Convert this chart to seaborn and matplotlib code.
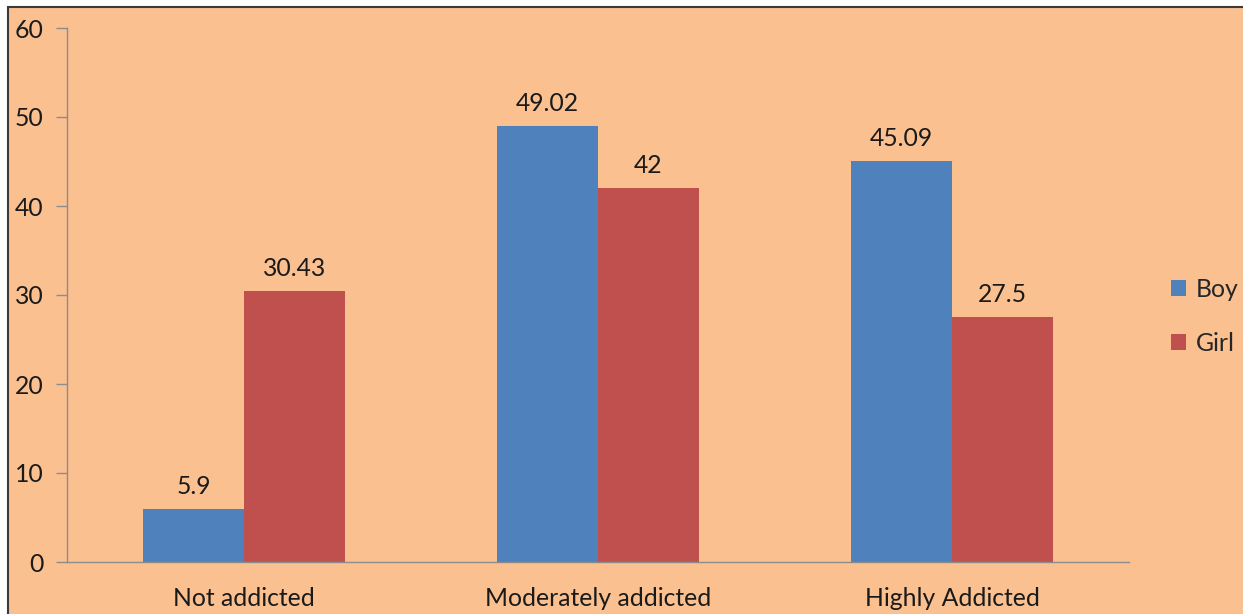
import matplotlib
matplotlib.use("Agg")
import matplotlib.pyplot as plt
from matplotlib.patches import Rectangle
import seaborn as sns
import pandas as pd

categories = ["Not addicted", "Moderately addicted", "Highly Addicted"]
boy = [5.9, 49.02, 45.09]
girl = [30.43, 42, 27.5]
series = ["Boy", "Girl"]
colors = ["#4F81BD", "#C0504D"]
y_ticks = [0, 10, 20, 30, 40, 50, 60]

df = pd.DataFrame({
    "category": categories * 2,
    "value": boy + girl,
    "group": [series[0]] * 3 + [series[1]] * 3,
})

sns.set_theme(style="white")
plt.rcParams["font.family"] = ["Lato", "DejaVu Sans"]

FS = 17.8
W, H = 1243, 614
fig = plt.figure(figsize=(W / 100, H / 100), dpi=100, facecolor="white")
bg = "#FAC090"
fig.patches.append(Rectangle((8 / W, -0.05), 1.1, (H - 7) / H + 0.05,
                             transform=fig.transFigure, facecolor=bg,
                             edgecolor="#3a3a3a", linewidth=1.5, zorder=-10))

ax = fig.add_axes([67 / W, (H - 562) / H, (1129 - 67) / W, (562 - 28) / H])
ax.set_facecolor("none")

sns.barplot(data=df, x="category", y="value", hue="group", order=categories,
            hue_order=series, palette=colors, width=0.57, linewidth=0,
            saturation=1, ax=ax, legend=True)

for cont in ax.containers:
    ax.bar_label(cont, fmt="%g", padding=8, fontsize=FS, color="#1a1a1a")

ax.set_ylim(0, 60)
ax.set_xlim(-0.5, 2.5)
ax.set_yticks(y_ticks)
ax.set_yticklabels([str(t) for t in y_ticks], fontsize=FS, color="#1a1a1a")
ax.set_xlabel("")
ax.set_ylabel("")

# category labels centered, tick marks at category boundaries
ax.set_xticks(range(len(categories)))
ax.set_xticklabels(categories, fontsize=FS, color="#1a1a1a")
ax.tick_params(axis="x", length=0, pad=18)
ax.set_xticks([-0.5, 0.5, 1.5, 2.5], minor=True)
ax.tick_params(axis="x", which="minor", length=8, width=1, color="#8c8c8c",
               direction="out")
ax.tick_params(axis="y", length=8, width=1, color="#8c8c8c", direction="out",
               pad=9, left=True)

for side in ["top", "right"]:
    ax.spines[side].set_visible(False)
for side in ["left", "bottom"]:
    ax.spines[side].set_color("#8c8c8c")
    ax.spines[side].set_linewidth(1)

handles, labels = ax.get_legend_handles_labels()
ax.legend(handles, labels, loc="center left", bbox_to_anchor=(1.04, 0.46),
          frameon=False, fontsize=FS, handlelength=0.6, handleheight=0.6,
          handletextpad=0.4, labelspacing=1.25, borderaxespad=0, borderpad=0)

fig.savefig("out.png", dpi=100, facecolor="white")
